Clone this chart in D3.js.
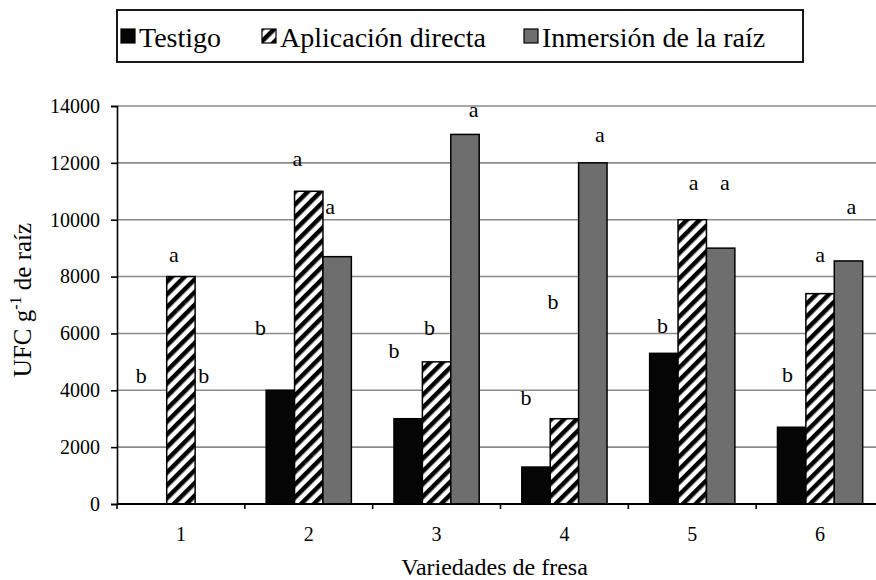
<!DOCTYPE html>
<html>
<head>
<meta charset="utf-8">
<script src="https://cdn.jsdelivr.net/npm/d3@7"></script>
<style>
  html, body { margin: 0; padding: 0; background: #fff; }
  svg { display: block; }
  .tick text { font-family: "Liberation Serif", "Times New Roman", serif; }
</style>
</head>
<body>
<svg id="chart" width="876" height="580"></svg>
<script>
// data
const categories = ['1', '2', '3', '4', '5', '6'];
const series = ['Testigo', 'Aplicación directa', 'Inmersión de la raíz'];
const testigo    = [0, 4000, 3000, 1300, 5300, 2700];
const aplicacion = [8000, 11000, 5000, 3000, 10000, 7400];
const inmersion  = [0, 8700, 13000, 12000, 9000, 8550];
const yTicks = [0, 2000, 4000, 6000, 8000, 10000, 12000, 14000];
// significance letters, one row per variety (Testigo, Aplicación, Inmersión)
const letras = [
  ['b', 'a', 'b'],
  ['b', 'a', 'a'],
  ['b', 'b', 'a'],
  ['b', 'b', 'a'],
  ['b', 'a', 'a'],
  ['b', 'a', 'a']
];

const values = [testigo, aplicacion, inmersion];

/* ---- layout ---------------------------------------------------------- */
const svg = d3.select('#chart');
const plotL = 117, plotR = 884, plotT = 106, plotB = 504;
const serif = '"Liberation Serif", "Times New Roman", serif';

const x = d3.scaleBand().domain(categories).range([plotL, plotR]).padding(0);
const xs = d3.scaleBand().domain(series).range([0, x.bandwidth()])
  .paddingInner(0).paddingOuter(0.75);
const y = d3.scaleLinear().domain([0, 14000]).range([plotB, plotT]);

// hatch for "Aplicación directa"
const defs = svg.append('defs');
defs.append('pattern')
  .attr('id', 'hatch')
  .attr('patternUnits', 'userSpaceOnUse')
  .attr('width', 9).attr('height', 9)
  .attr('patternTransform', 'rotate(45)')
  .call(p => {
    p.append('rect').attr('width', 9).attr('height', 9).attr('fill', '#fff');
    p.append('rect').attr('width', 4.5).attr('height', 9).attr('fill', '#000');
  });

const fills = ['#050505', 'url(#hatch)', '#6e6e6e'];

// gridlines
svg.append('g')
  .selectAll('line')
  .data(yTicks.filter(d => d > 0))
  .join('line')
  .attr('x1', plotL).attr('x2', plotR)
  .attr('y1', d => y(d)).attr('y2', d => y(d))
  .attr('stroke', '#8a8a8a').attr('stroke-width', 1.6);

// bars
const rows = [];
categories.forEach((c, i) => {
  series.forEach((s, j) => rows.push({ cat: c, ser: s, j: j, v: values[j][i] }));
});

svg.append('g')
  .selectAll('rect')
  .data(rows.filter(d => d.v > 0))
  .join('rect')
  .attr('x', d => x(d.cat) + xs(d.ser))
  .attr('y', d => y(d.v))
  .attr('width', xs.bandwidth())
  .attr('height', d => y(0) - y(d.v))
  .attr('fill', d => fills[d.j])
  .attr('stroke', '#000')
  .attr('stroke-width', 1.5);

// axes
const yAxis = svg.append('g')
  .attr('transform', `translate(${plotL},0)`)
  .call(d3.axisLeft(y).tickValues(yTicks).tickFormat(d3.format('d')).tickSize(6).tickPadding(11));
yAxis.select('.domain').attr('stroke', '#000').attr('stroke-width', 1.6);
yAxis.selectAll('.tick line').attr('stroke', '#000').attr('stroke-width', 1.6);
yAxis.selectAll('.tick text').attr('font-size', 20).attr('fill', '#000');

// x axis: ticks between categories, labels at band centres
const bounds = categories.map(c => x(c)).concat([plotR]);
svg.append('line')
  .attr('x1', plotL).attr('x2', plotR)
  .attr('y1', plotB).attr('y2', plotB)
  .attr('stroke', '#000').attr('stroke-width', 1.8);
svg.append('g')
  .selectAll('line')
  .data(bounds)
  .join('line')
  .attr('x1', d => d).attr('x2', d => d)
  .attr('y1', plotB).attr('y2', plotB + 5)
  .attr('stroke', '#000').attr('stroke-width', 1.6);

const xAxis = svg.append('g')
  .attr('transform', `translate(0,${plotB})`)
  .call(d3.axisBottom(x).tickSize(0).tickPadding(23));
xAxis.select('.domain').remove();
xAxis.selectAll('.tick text').attr('font-size', 20).attr('fill', '#000');

// letters: [slot position within the group, height in data units]
const letraPos = [
  [[0.1, 4250], [1.25, 8500], [2.3, 4250]],
  [[-0.2, 5950], [1.1, 11900], [2.25, 10200]],
  [[0.0, 5150], [1.25, 5950], [2.8, 13600]],
  [[0.15, 3500], [1.1, 6850], [2.75, 12750]],
  [[0.45, 6000], [1.55, 11050], [2.65, 11050]],
  [[0.35, 4300], [1.5, 8500], [2.6, 10200]]
];
const lab = [];
letras.forEach((row, i) => row.forEach((t, j) => {
  lab.push({ cat: categories[i], t: t, s: letraPos[i][j][0], h: letraPos[i][j][1] });
}));
svg.append('g')
  .selectAll('text')
  .data(lab)
  .join('text')
  .attr('x', d => x(d.cat) + xs(series[0]) + d.s * xs.step())
  .attr('y', d => y(d.h))
  .attr('text-anchor', 'middle')
  .attr('font-family', serif)
  .attr('font-size', 22)
  .text(d => d.t);

// axis titles
svg.append('text')
  .attr('x', (plotL + 876) / 2 - 2)
  .attr('y', 575)
  .attr('text-anchor', 'middle')
  .attr('font-family', serif)
  .attr('font-size', 24)
  .text('Variedades de fresa');

const yt = svg.append('text')
  .attr('transform', `translate(31,300) rotate(-90)`)
  .attr('text-anchor', 'middle')
  .attr('font-family', serif)
  .attr('font-size', 25);
yt.append('tspan').text('UFC g');
yt.append('tspan').attr('dy', -10).attr('font-size', 16).text('-1');
yt.append('tspan').attr('dy', 10).text(' de raíz');

/* ---- legend ---------------------------------------------------------- */
const lg = svg.append('g');
lg.append('rect')
  .attr('x', 117).attr('y', 10).attr('width', 686).attr('height', 52)
  .attr('fill', '#fff').attr('stroke', '#000').attr('stroke-width', 1.8);
const legX = [121, 262, 524];
series.forEach((s, j) => {
  const g = lg.append('g').attr('transform', `translate(${legX[j]},0)`);
  g.append('rect')
    .attr('x', 0).attr('y', 29).attr('width', 14).attr('height', 14)
    .attr('fill', fills[j]).attr('stroke', '#000').attr('stroke-width', 1.2);
  g.append('text')
    .attr('x', 18).attr('y', 47)
    .attr('font-family', serif)
    .attr('font-size', 28)
    .text(s);
});
</script>
</body>
</html>
